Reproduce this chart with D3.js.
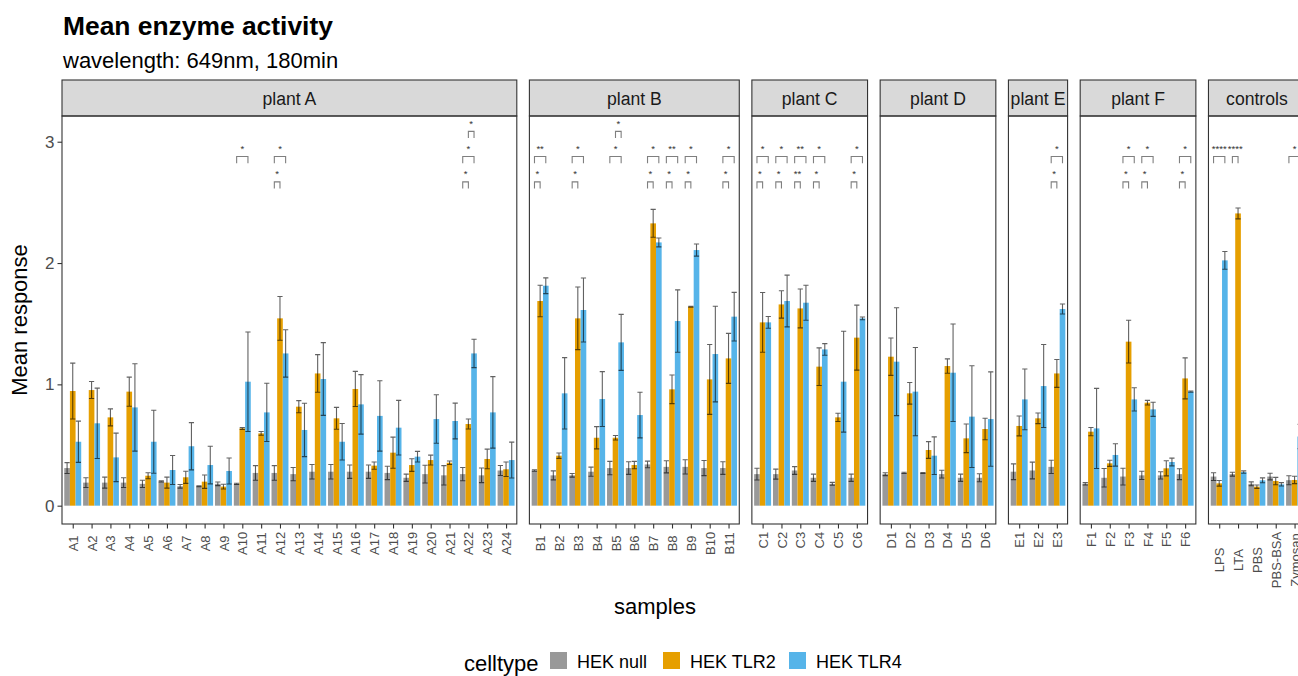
<!DOCTYPE html>
<html>
<head>
<meta charset="utf-8">
<script src="https://cdn.jsdelivr.net/npm/d3@7"></script>
<style>
  body { margin: 0; background: #fff; }
  svg { display: block; font-family: "Liberation Sans", Arial, Helvetica, sans-serif; }
</style>
</head>
<body>
<svg id="chart" width="1298" height="676"></svg>
<script>
// ---- samples per facet ----
const facetNames = ["plant A", "plant B", "plant C", "plant D", "plant E", "plant F", "controls"];
const plantA = ["A1","A2","A3","A4","A5","A6","A7","A8","A9","A10","A11","A12","A13","A14","A15","A16","A17","A18","A19","A20","A21","A22","A23","A24"];
const plantB = ["B1","B2","B3","B4","B5","B6","B7","B8","B9","B10","B11"];
const plantC = ["C1","C2","C3","C4","C5","C6"];
const plantD = ["D1","D2","D3","D4","D5","D6"];
const plantE = ["E1","E2","E3"];
const plantF = ["F1","F2","F3","F4","F5","F6"];
const controls = ["LPS","LTA","PBS","PBS-BSA","Zymosan"];
const facetSamples = [plantA, plantB, plantC, plantD, plantE, plantF, controls];

const celltypes = ["HEK null", "HEK TLR2", "HEK TLR4"];
const celltypeColors = ["#999999", "#E69F00", "#56B4E9"];

// ---- mean response, in sample order (A1..A24, B1..B11, C1..C6, D1..D6, E1..E3, F1..F6, controls) ----
const hekNull = [
  0.31,0.19,0.19,0.19,0.18,0.20,0.16,0.16,0.18,0.18,0.27,0.27,0.26,0.28,0.28,0.28,0.28,0.27,0.23,0.26,0.25,0.26,0.25,0.29,
  0.29,0.25,0.25,0.28,0.31,0.31,0.34,0.32,0.32,0.31,0.31,
  0.26,0.26,0.29,0.23,0.18,0.23,
  0.26,0.27,0.27,0.26,0.23,0.23,
  0.28,0.29,0.32,
  0.18,0.23,0.24,0.25,0.25,0.26,
  0.24,0.26,0.18,0.24,0.21
];
const seNull = [
  0.045,0.04,0.045,0.04,0.03,0.005,0.015,0.004,0.015,0.005,0.06,0.06,0.055,0.06,0.06,0.055,0.055,0.055,0.03,0.073,0.08,0.055,0.06,0.041,
  0.006,0.037,0.015,0.038,0.055,0.052,0.027,0.05,0.059,0.062,0.052,
  0.048,0.041,0.032,0.03,0.012,0.03,
  0.012,0.005,0.004,0.032,0.03,0.033,
  0.065,0.069,0.055,
  0.01,0.076,0.069,0.034,0.03,0.045,
  0.032,0.016,0.016,0.027,0.037
];
const hekTLR2 = [
  0.945,0.953,0.728,0.94,0.247,0.19,0.234,0.198,0.157,0.637,0.596,1.544,0.816,1.09,0.72,0.962,0.33,0.437,0.335,0.376,0.354,0.673,0.385,0.30,
  1.687,0.412,1.544,0.56,0.56,0.335,2.327,0.959,1.64,1.041,1.214,
  1.511,1.659,1.626,1.146,0.728,1.385,
  1.228,0.926,0.459,1.151,0.555,0.632,
  0.657,0.72,1.09,
  0.61,0.349,1.352,0.849,0.308,1.049,
  0.184,2.409,0.157,0.203,0.212
];
const seTLR2 = [
  0.23,0.07,0.07,0.12,0.025,0.045,0.05,0.055,0.02,0.008,0.015,0.18,0.05,0.155,0.09,0.145,0.03,0.128,0.052,0.041,0.014,0.041,0.081,0.06,
  0.13,0.022,0.258,0.092,0.018,0.03,0.115,0.118,0.004,0.288,0.206,
  0.246,0.113,0.16,0.155,0.034,0.268,
  0.154,0.089,0.069,0.059,0.118,0.089,
  0.082,0.044,0.115,
  0.034,0.025,0.176,0.019,0.062,0.169,
  0.023,0.045,0.014,0.03,0.03
];
const hekTLR4 = [
  0.527,0.679,0.398,0.81,0.527,0.294,0.49,0.335,0.286,1.022,0.769,1.255,0.624,1.044,0.527,0.835,0.74,0.643,0.404,0.714,0.698,1.255,0.769,0.376,
  1.813,0.926,1.613,0.879,1.346,0.747,2.17,1.522,2.107,1.25,1.558,
  1.511,1.687,1.673,1.288,1.022,1.544,
  1.187,0.94,0.412,1.096,0.734,0.714,
  0.876,0.986,1.621,
  0.637,0.418,0.876,0.794,0.36,0.94,
  2.022,0.277,0.209,0.176,0.57
];
const seTLR4 = [
  0.17,0.29,0.2,0.36,0.26,0.12,0.195,0.155,0.107,0.41,0.24,0.195,0.22,0.3,0.15,0.245,0.29,0.225,0.044,0.2,0.147,0.117,0.295,0.148,
  0.065,0.294,0.264,0.226,0.231,0.188,0.037,0.257,0.05,0.394,0.2,
  0.048,0.213,0.144,0.048,0.416,0.011,
  0.445,0.364,0.155,0.402,0.419,0.389,
  0.25,0.342,0.041,
  0.33,0.092,0.096,0.058,0.032,0.005,
  0.073,0.01,0.02,0.014,0.1
];

// ---- significance brackets: sample, compared pair, label, bracket height ----
const sigSample = ["A10","A12","A12","A22","A22","A22",
  "B1","B1","B3","B3","B5","B5","B7","B7","B8","B8","B9","B9","B11","B11",
  "C1","C1","C2","C2","C3","C3","C4","C4","C6","C6",
  "E3","E3","F3","F3","F4","F4","F6","F6",
  "LPS","LTA","Zymosan"];
const sigFrom = ["HEK null","HEK null","HEK null","HEK null","HEK null","HEK TLR2",
  "HEK null","HEK null","HEK null","HEK null","HEK null","HEK TLR2","HEK null","HEK null","HEK null","HEK null","HEK null","HEK null","HEK null","HEK null",
  "HEK null","HEK null","HEK null","HEK null","HEK null","HEK null","HEK null","HEK null","HEK null","HEK null",
  "HEK null","HEK null","HEK null","HEK null","HEK null","HEK null","HEK null","HEK null",
  "HEK null","HEK null","HEK null"];
const sigTo = ["HEK TLR4","HEK TLR2","HEK TLR4","HEK TLR2","HEK TLR4","HEK TLR4",
  "HEK TLR2","HEK TLR4","HEK TLR2","HEK TLR4","HEK TLR4","HEK TLR4","HEK TLR2","HEK TLR4","HEK TLR2","HEK TLR4","HEK TLR2","HEK TLR4","HEK TLR2","HEK TLR4",
  "HEK TLR2","HEK TLR4","HEK TLR2","HEK TLR4","HEK TLR2","HEK TLR4","HEK TLR2","HEK TLR4","HEK TLR2","HEK TLR4",
  "HEK TLR2","HEK TLR4","HEK TLR2","HEK TLR4","HEK TLR2","HEK TLR4","HEK TLR2","HEK TLR4",
  "HEK TLR4","HEK TLR2","HEK TLR4"];
const sigLabel = ["*","*","*","*","*","*",
  "*","**","*","*","*","*","*","*","*","**","*","*","*","*",
  "*","*","*","*","**","**","*","*","*","*",
  "*","*","*","*","*","*","*","*",
  "****","****","*"];
const sigY = [2.878,2.669,2.878,2.669,2.878,3.085,
  2.669,2.878,2.669,2.878,2.878,3.085,2.669,2.878,2.669,2.878,2.669,2.878,2.669,2.878,
  2.669,2.878,2.669,2.878,2.669,2.878,2.669,2.878,2.669,2.878,
  2.669,2.878,2.669,2.878,2.669,2.878,2.669,2.878,
  2.878,2.878,2.878];

// ---- layout ----
const svg = d3.select("#chart");
const step = 18.84, expand = 0.57, gap = 12.6, left0 = 62;
const stripTop = 80, panelTop = 116, panelBottom = 524;
const tipLen = 0.055;

const y = d3.scaleLinear().domain([-0.151, 3.212]).range([panelBottom, panelTop]);
const inner = d3.scaleBand().domain(celltypes).range([-0.45 * step, 0.45 * step]).padding(0);
const color = d3.scaleOrdinal().domain(celltypes).range(celltypeColors);

const meanBy = { "HEK null": hekNull, "HEK TLR2": hekTLR2, "HEK TLR4": hekTLR4 };
const seBy = { "HEK null": seNull, "HEK TLR2": seTLR2, "HEK TLR4": seTLR4 };

const allSamples = facetSamples.flat();
const sampleX = {};

let x0 = left0;
facetSamples.forEach((samples, fi) => {
  const width = (samples.length - 1 + 2 * expand) * step;
  const x = d3.scalePoint().domain(samples)
    .range([x0 + expand * step, x0 + width - expand * step]);
  samples.forEach(s => sampleX[s] = x(s));

  const g = svg.append("g");

  // strip
  g.append("rect").attr("x", x0).attr("y", stripTop).attr("width", width).attr("height", panelTop - stripTop)
    .attr("fill", "#D9D9D9").attr("stroke", "#333333").attr("stroke-width", 1.1);
  g.append("text").attr("x", x0 + width / 2).attr("y", 104.5).attr("text-anchor", "middle")
    .attr("font-size", 17.6).attr("fill", "#1A1A1A").text(facetNames[fi]);

  // bars
  const recs = [];
  samples.forEach(s => {
    const i = allSamples.indexOf(s);
    celltypes.forEach(c => recs.push({ s, c, v: meanBy[c][i], e: seBy[c][i] }));
  });
  g.append("g").selectAll("rect").data(recs).join("rect")
    .attr("x", d => x(d.s) + inner(d.c))
    .attr("width", inner.bandwidth())
    .attr("y", d => y(d.v))
    .attr("height", d => y(0) - y(d.v))
    .attr("fill", d => color(d.c));

  // error bars
  const eb = g.append("g").attr("stroke", "#000").attr("stroke-opacity", 0.62).attr("stroke-width", 1.1).attr("fill", "none");
  const capHalf = inner.bandwidth() * 0.46;
  eb.selectAll("path").data(recs).join("path")
    .attr("d", d => {
      const cx = x(d.s) + inner(d.c) + inner.bandwidth() / 2;
      const t = y(d.v + d.e), b = y(d.v - d.e);
      return `M${cx - capHalf},${t}H${cx + capHalf}M${cx},${t}V${b}M${cx - capHalf},${b}H${cx + capHalf}`;
    });

  // panel border
  g.append("rect").attr("x", x0).attr("y", panelTop).attr("width", width).attr("height", panelBottom - panelTop)
    .attr("fill", "none").attr("stroke", "#333333").attr("stroke-width", 1.1);

  // x axis
  const ax = g.append("g").attr("transform", `translate(0,${panelBottom})`)
    .call(d3.axisBottom(x).tickSizeInner(4.5).tickSizeOuter(0).tickPadding(0));
  ax.select(".domain").remove();
  ax.selectAll(".tick line").attr("stroke", "#333333").attr("stroke-width", 1.1);
  const labels = ax.selectAll(".tick text")
    .attr("font-size", 13).attr("fill", "#4D4D4D").attr("font-family", null)
    .attr("transform", "rotate(-90)").attr("text-anchor", "middle").attr("dy", "0.35em").attr("y", 0);
  let maxLen = 0;
  labels.each(function () { maxLen = Math.max(maxLen, this.getComputedTextLength()); });
  labels.attr("x", -(7.8 + maxLen / 2));
  ax.attr("font-size", null).attr("font-family", null);

  x0 += width + gap;
});

// y axis on first panel
const yAxis = svg.append("g").attr("transform", `translate(${left0},0)`)
  .call(d3.axisLeft(y).tickValues([0, 1, 2, 3]).tickFormat(d3.format("d")).tickSizeInner(4.5).tickSizeOuter(0).tickPadding(3));
yAxis.select(".domain").remove();
yAxis.attr("font-size", null).attr("font-family", null);
yAxis.selectAll(".tick line").attr("stroke", "#333333").attr("stroke-width", 1.1);
yAxis.selectAll(".tick text").attr("font-size", 17).attr("fill", "#4D4D4D");

// significance brackets
const sig = svg.append("g");
sigSample.forEach((s, k) => {
  const cx = sampleX[s];
  const xa = cx + inner(sigFrom[k]) + inner.bandwidth() / 2;
  const xb = cx + inner(sigTo[k]) + inner.bandwidth() / 2;
  const yy = y(sigY[k]), yt = y(sigY[k] - tipLen);
  sig.append("path").attr("d", `M${xa},${yt}V${yy}H${xb}V${yt}`)
    .attr("fill", "none").attr("stroke", "#7F7F7F").attr("stroke-width", 1.1);
  sig.append("text").attr("x", (xa + xb) / 2).attr("y", yy - 4.5).attr("text-anchor", "middle")
    .attr("font-size", 9.5).attr("fill", "#333").text(sigLabel[k]);
});

// titles
svg.append("text").attr("x", 63).attr("y", 34.5).attr("font-size", 26.4).attr("font-weight", "bold").text("Mean enzyme activity");
svg.append("text").attr("x", 63).attr("y", 67.5).attr("font-size", 22).text("wavelength: 649nm, 180min");
svg.append("text").attr("transform", `translate(27,${(panelTop + panelBottom) / 2}) rotate(-90)`)
  .attr("text-anchor", "middle").attr("font-size", 22).text("Mean response");
svg.append("text").attr("x", 655).attr("y", 614).attr("text-anchor", "middle").attr("font-size", 22).text("samples");

// legend
const legend = svg.append("g");
legend.append("text").attr("x", 464).attr("y", 671).attr("font-size", 22).text("celltype");
const keyX = [550, 663, 789];
celltypes.forEach((c, i) => {
  legend.append("rect").attr("x", keyX[i]).attr("y", 652).attr("width", 17).attr("height", 17).attr("fill", color(c));
  legend.append("text").attr("x", keyX[i] + 27).attr("y", 667.5).attr("font-size", 18).text(c);
});
</script>
</body>
</html>
